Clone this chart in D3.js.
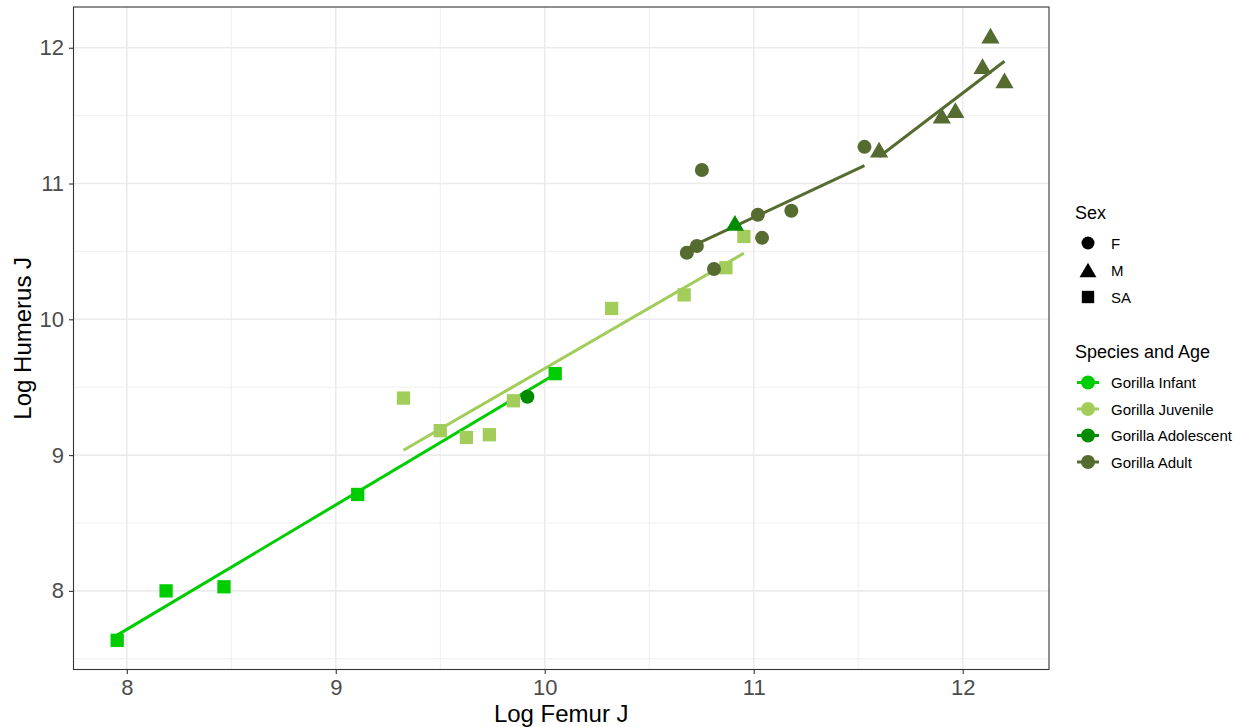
<!DOCTYPE html>
<html>
<head>
<meta charset="utf-8">
<script src="https://cdn.jsdelivr.net/npm/d3@7"></script>
<style>
  body { margin: 0; background: #fff; }
  text { font-family: "Liberation Sans", Arial, sans-serif; }
</style>
</head>
<body>
<div id="chart"></div>
<script>
'use strict';

// specimens: [log femur J, log humerus J, sex]
var infant = [
    [7.954, 7.636, 'SA'], [8.188, 8.00, 'SA'], [8.465, 8.03, 'SA'],
    [9.105, 8.71, 'SA'], [10.05, 9.60, 'SA']
];
var juvenile = [
    [9.324, 9.42, 'SA'], [9.50, 9.18, 'SA'], [9.625, 9.13, 'SA'],
    [9.735, 9.15, 'SA'], [9.85, 9.40, 'SA'], [10.32, 10.08, 'SA'],
    [10.667, 10.18, 'SA'], [10.867, 10.38, 'SA'], [10.953, 10.61, 'SA']
];
var adolescent = [
    [9.917, 9.43, 'F'], [10.91, 10.71, 'M']
];
var adult = [
    [10.68, 10.49, 'F'], [10.728, 10.54, 'F'], [10.752, 11.10, 'F'],
    [10.81, 10.37, 'F'], [11.02, 10.77, 'F'], [11.04, 10.60, 'F'],
    [11.18, 10.80, 'F'], [11.53, 11.27, 'F'],
    [11.60, 11.25, 'M'], [11.90, 11.50, 'M'], [11.965, 11.54, 'M'],
    [12.095, 11.865, 'M'], [12.133, 12.09, 'M'], [12.20, 11.76, 'M']
];

// fitted lines (end points)
var fitInfant = [[7.954, 7.674], [10.05, 9.596]];
var fitJuvenile = [[9.324, 9.036], [10.953, 10.487]];
var fitAdultF = [[10.68, 10.52], [11.53, 11.131]];
var fitAdultM = [[11.60, 11.197], [12.20, 11.90]];

var xTicks = [8, 9, 10, 11, 12];
var yTicks = [8, 9, 10, 11, 12];
var sexLabels = ['F', 'M', 'SA'];
var groupLabels = ['Gorilla Infant', 'Gorilla Juvenile', 'Gorilla Adolescent', 'Gorilla Adult'];
var groupColors = ['#00CD00', '#A2CD5A', '#008B00', '#556B2F'];

var width = 1252,
    height = 727;

var panel = {left: 73.5, top: 7, right: 1049, bottom: 669.5};

var svg = d3.select('#chart').append('svg')
    .attr('width', width)
    .attr('height', height);

var x = d3.scaleLinear().domain([7.745, 12.413]).range([panel.left, panel.right]);
var y = d3.scaleLinear().domain([7.421, 12.30]).range([panel.bottom, panel.top]);

// grid
var grid = svg.append('g');
var xMinor = d3.range(7.5, 12.5, 1).filter(function(v) { return v > 7.745 && v < 12.413; });
var yMinor = d3.range(7.5, 12.5, 1).filter(function(v) { return v > 7.421 && v < 12.3; });

grid.selectAll('.xminor').data(xMinor).enter().append('line')
    .attr('x1', function(d) { return x(d); }).attr('x2', function(d) { return x(d); })
    .attr('y1', panel.top).attr('y2', panel.bottom)
    .attr('stroke', '#EBEBEB').attr('stroke-width', 0.8);
grid.selectAll('.yminor').data(yMinor).enter().append('line')
    .attr('y1', function(d) { return y(d); }).attr('y2', function(d) { return y(d); })
    .attr('x1', panel.left).attr('x2', panel.right)
    .attr('stroke', '#EBEBEB').attr('stroke-width', 0.8);
grid.selectAll('.xmajor').data(xTicks).enter().append('line')
    .attr('x1', function(d) { return x(d); }).attr('x2', function(d) { return x(d); })
    .attr('y1', panel.top).attr('y2', panel.bottom)
    .attr('stroke', '#EBEBEB').attr('stroke-width', 1.6);
grid.selectAll('.ymajor').data(yTicks).enter().append('line')
    .attr('y1', function(d) { return y(d); }).attr('y2', function(d) { return y(d); })
    .attr('x1', panel.left).attr('x2', panel.right)
    .attr('stroke', '#EBEBEB').attr('stroke-width', 1.6);

// axes
var xAxis = svg.append('g')
    .attr('transform', 'translate(0,' + panel.bottom + ')')
    .call(d3.axisBottom(x).tickValues(xTicks).tickFormat(d3.format('d')).tickSize(4.5).tickPadding(5));
var yAxis = svg.append('g')
    .attr('transform', 'translate(' + panel.left + ',0)')
    .call(d3.axisLeft(y).tickValues(yTicks).tickFormat(d3.format('d')).tickSize(4.5).tickPadding(5));

[xAxis, yAxis].forEach(function(a) {
    a.select('.domain').remove();
    a.selectAll('line').attr('stroke', '#333333').attr('stroke-width', 1.1);
    a.selectAll('text')
        .style('font-family', '"Liberation Sans", Arial, sans-serif')
        .style('font-size', '22px')
        .attr('fill', '#4D4D4D');
});

svg.append('rect')
    .attr('x', panel.left).attr('y', panel.top)
    .attr('width', panel.right - panel.left)
    .attr('height', panel.bottom - panel.top)
    .attr('fill', 'none')
    .attr('stroke', '#333333')
    .attr('stroke-width', 1.1);

svg.append('text')
    .attr('x', (panel.left + panel.right) / 2)
    .attr('y', 722)
    .attr('text-anchor', 'middle')
    .style('font-size', '24px')
    .text('Log Femur J');

svg.append('text')
    .attr('transform', 'translate(31,' + ((panel.top + panel.bottom) / 2) + ') rotate(-90)')
    .attr('text-anchor', 'middle')
    .style('font-size', '24px')
    .text('Log Humerus J');

// shapes
function shapePath(sex, s) {
    if (sex === 'F') {
        return d3.symbol().type(d3.symbolCircle).size(Math.PI * s * s)();
    }
    if (sex === 'M') {
        var w = s * 1.3, h = s * 2.25;
        return 'M0,' + (-h / 2) + 'L' + w + ',' + (h / 2) +
            'L' + (-w) + ',' + (h / 2) + 'Z';
    }
    return 'M' + (-s * 0.95) + ',' + (-s * 0.95) + 'h' + (s * 1.9) + 'v' + (s * 1.9) + 'h' + (-s * 1.9) + 'Z';
}

var lineGen = d3.line()
    .x(function(d) { return x(d[0]); })
    .y(function(d) { return y(d[1]); });

var fits = [
    {pts: fitInfant, color: groupColors[0]},
    {pts: fitJuvenile, color: groupColors[1]},
    {pts: fitAdultF, color: groupColors[3]},
    {pts: fitAdultM, color: groupColors[3]}
];

svg.append('g').selectAll('path')
    .data(fits)
    .enter()
    .append('path')
    .attr('d', function(d) { return lineGen(d.pts); })
    .attr('stroke', function(d) { return d.color; })
    .attr('stroke-width', 3)
    .attr('fill', 'none');

var groups = [infant, juvenile, adolescent, adult];
var pointsG = svg.append('g');
groups.forEach(function(pts, gi) {
    pointsG.selectAll('.p' + gi)
        .data(pts)
        .enter()
        .append('path')
        .attr('class', 'p' + gi)
        .attr('transform', function(d) { return 'translate(' + x(d[0]) + ',' + y(d[1]) + ')'; })
        .attr('d', function(d) { return shapePath(d[2], 7); })
        .attr('fill', groupColors[gi]);
});

// legends
var leg = svg.append('g');
leg.append('text')
    .attr('x', 1075).attr('y', 219)
    .style('font-size', '18px')
    .text('Sex');

var sexKeys = leg.selectAll('.sexkey')
    .data(sexLabels)
    .enter()
    .append('g')
    .attr('transform', function(d, i) { return 'translate(1088,' + (243 + i * 27) + ')'; });
sexKeys.append('path')
    .attr('d', function(d) { return shapePath(d, 6.5); })
    .attr('fill', '#000');
sexKeys.append('text')
    .attr('x', 23).attr('y', 5.5)
    .style('font-size', '15px')
    .text(function(d) { return d; });

leg.append('text')
    .attr('x', 1075).attr('y', 358)
    .style('font-size', '18px')
    .text('Species and Age');

var grpKeys = leg.selectAll('.grpkey')
    .data(groupLabels)
    .enter()
    .append('g')
    .attr('transform', function(d, i) { return 'translate(1088,' + (382.5 + i * 26.5) + ')'; });
grpKeys.append('line')
    .attr('x1', -11).attr('x2', 11)
    .attr('stroke', function(d, i) { return groupColors[i]; })
    .attr('stroke-width', 3);
grpKeys.append('circle')
    .attr('r', 7)
    .attr('fill', function(d, i) { return groupColors[i]; });
grpKeys.append('text')
    .attr('x', 23).attr('y', 5.5)
    .style('font-size', '15px')
    .text(function(d) { return d; });
</script>
</body>
</html>
